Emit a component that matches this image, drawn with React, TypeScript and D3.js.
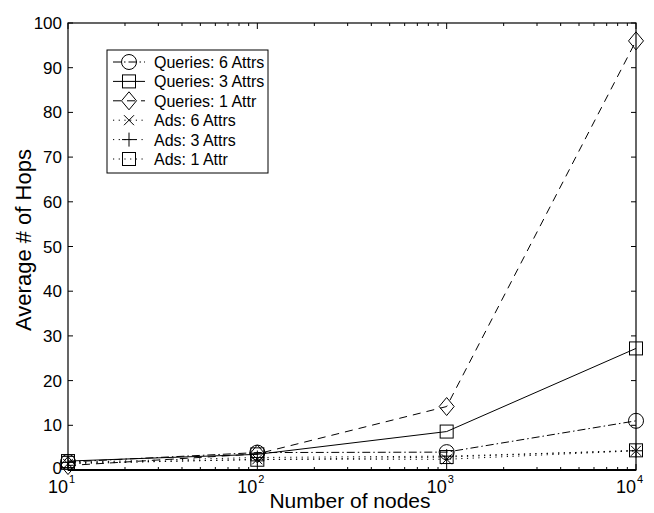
import React from "react";
import * as d3 from "d3";

const xValues = [10, 100, 1000, 10000];
const q6 = [1.8, 3.9, 4.0, 11.0];
const q3 = [2.0, 3.5, 8.6, 27.2];
const q1 = [1.0, 3.6, 14.2, 96.0];
const a6 = [1.4, 2.4, 2.4, 4.3];
const a3 = [1.7, 2.8, 3.1, 4.3];
const a1 = [1.6, 2.3, 2.9, 4.4];
const seriesNames = ["Queries: 6 Attrs", "Queries: 3 Attrs", "Queries: 1 Attr", "Ads: 6 Attrs", "Ads: 3 Attrs", "Ads: 1 Attr"];
const yTicks = [0, 10, 20, 30, 40, 50, 60, 70, 80, 90, 100];
const xMajor = [10, 100, 1000, 10000];
const xExp = ["1", "2", "3", "4"];

const W = 654, H = 513;
const L = 68, R = 636, T = 23, B = 470;
const FONT = "'Liberation Sans', Arial, Helvetica, sans-serif";

type Series = { name: string; vals: number[]; dash: string; marker: string };

function Marker({ type, x, y }: { type: string; x: number; y: number }) {
  const s = { fill: "none", stroke: "#000", strokeWidth: 1 };
  const r = 7.5;
  if (type === "circle") return <circle cx={x} cy={y} r={r} {...s} />;
  if (type === "square") return <rect x={x - 6.5} y={y - 6.5} width={13} height={13} {...s} />;
  if (type === "diamond")
    return <path d={`M${x},${y - 9}L${x + 7.5},${y}L${x},${y + 9}L${x - 7.5},${y}Z`} {...s} />;
  if (type === "x")
    return <path d={`M${x - 5},${y - 5}L${x + 5},${y + 5}M${x - 5},${y + 5}L${x + 5},${y - 5}`} {...s} />;
  if (type === "plus")
    return <path d={`M${x - 7},${y}L${x + 7},${y}M${x},${y - 7}L${x},${y + 7}`} {...s} />;
  return null;
}

export default function App() {
  const x = d3.scaleLog().domain([10, 10000]).range([L, R]);
  const y = d3.scaleLinear().domain([0, 100]).range([B, T]);
  const series: Series[] = [
    { name: seriesNames[0], vals: q6, dash: "8,3,1.5,3", marker: "circle" },
    { name: seriesNames[1], vals: q3, dash: "", marker: "square" },
    { name: seriesNames[2], vals: q1, dash: "8,6", marker: "diamond" },
    { name: seriesNames[3], vals: a6, dash: "1.2,4.5", marker: "x" },
    { name: seriesNames[4], vals: a3, dash: "1.2,4.5", marker: "plus" },
    { name: seriesNames[5], vals: a1, dash: "1.2,4.5", marker: "square" },
  ];
  const line = d3
    .line<number>()
    .x((_, i) => x(xValues[i]))
    .y((d) => y(d));

  const minor: number[] = [];
  for (let d = 10; d < 10000; d *= 10) for (let k = 2; k <= 9; k++) minor.push(d * k);

  const legX = 107, legY = 50, legW = 161, legH = 123;
  const rowH = 19.4;

  return (
    <svg width={W} height={H} style={{ position: "absolute", left: 0, top: 0, background: "#fff" }} fontFamily={FONT}>
      <rect x={0} y={0} width={W} height={H} fill="#fff" />
      {series.map((s, si) => (
        <g key={si}>
          <path d={line(s.vals) || ""} fill="none" stroke="#000" strokeWidth={1} strokeDasharray={s.dash || undefined} />
          {s.vals.map((v, i) => (
            <Marker key={i} type={s.marker} x={x(xValues[i])} y={y(v)} />
          ))}
        </g>
      ))}
      <rect x={L} y={T} width={R - L} height={B - T} fill="none" stroke="#000" strokeWidth={1.2} />
      <line x1={L} x2={R} y1={B} y2={B} stroke="#000" strokeWidth={2} />
      {yTicks.map((t) => (
        <g key={t}>
          <line x1={L} x2={L + 5} y1={y(t)} y2={y(t)} stroke="#000" />
          <line x1={R} x2={R - 5} y1={y(t)} y2={y(t)} stroke="#000" />
          <text x={L - 6} y={y(t) + (t === 0 ? 4 : 6)} fontSize={17} textAnchor="end" fill="#000">{t}</text>
        </g>
      ))}
      {xMajor.map((t, i) => (
        <g key={t}>
          <line x1={x(t)} x2={x(t)} y1={B} y2={B - 6} stroke="#000" />
          <line x1={x(t)} x2={x(t)} y1={T} y2={T + 6} stroke="#000" />
          <text x={x(t)} y={493} fontSize={18} textAnchor="end" fill="#000">10</text>
          <text x={x(t) + 1} y={483} fontSize={11} textAnchor="start" fill="#000">{xExp[i]}</text>
        </g>
      ))}
      {minor.map((t) => (
        <g key={t}>
          <line x1={x(t)} x2={x(t)} y1={B} y2={B - 3} stroke="#000" />
          <line x1={x(t)} x2={x(t)} y1={T} y2={T + 3} stroke="#000" />
        </g>
      ))}
      <text x={350} y={508} fontSize={21} textAnchor="middle" fill="#000">Number of nodes</text>
      <text transform={`translate(31,240) rotate(-90)`} fontSize={22} textAnchor="middle" fill="#000">Average # of Hops</text>
      <rect x={legX} y={legY} width={legW} height={legH} fill="#fff" stroke="#000" strokeWidth={1} />
      {series.map((s, i) => {
        const cy = legY + 12 + i * rowH;
        return (
          <g key={i}>
            <line x1={legX + 6} x2={legX + 38} y1={cy} y2={cy} stroke="#000" strokeWidth={1} strokeDasharray={s.dash || undefined} />
            <Marker type={s.marker} x={legX + 22} y={cy} />
            <text x={legX + 47} y={cy + 6} fontSize={16} fill="#000">{s.name}</text>
          </g>
        );
      })}
    </svg>
  );
}
